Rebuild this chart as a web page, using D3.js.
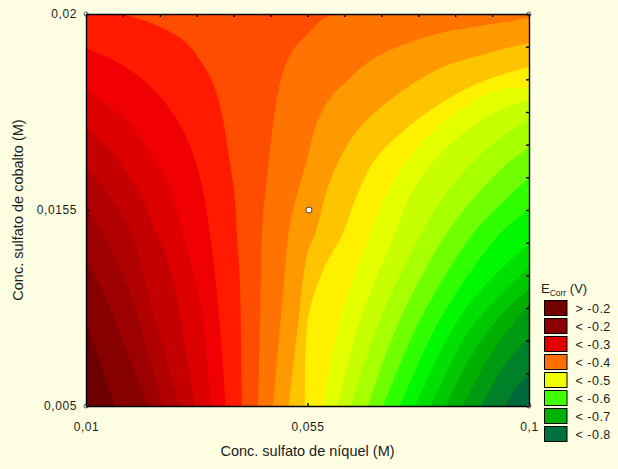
<!DOCTYPE html>
<html><head><meta charset="utf-8">
<script src="https://cdn.jsdelivr.net/npm/d3@7/dist/d3.min.js"></script>
<style>
html,body{margin:0;padding:0;background:#fefee2;overflow:hidden}
text{font-family:"Liberation Sans",Arial,sans-serif;fill:#1c1c1c}
.tick text{font-size:12px;letter-spacing:.6px}
.domain,.tick line{stroke:#000;stroke-width:1.4px}
</style></head><body>
<svg id="c" width="618" height="469"></svg>
<script>
// Axes: concentrations in mmol/L; printed tick labels as in the chart
const xTicks=[10,55,100], xLabels=["0,01","0,055","0,1"];
const yTicks=[5,15.5,20], yLabels=["0,005","0,0155","0,02"];
const xTitle="Conc. sulfato de níquel (M)", yTitle="Conc. sulfato de cobalto (M)";
const designPoints=[[10,20],[100,20],[10,5],[100,5]], centerPoint=[[55.3,15.5]];
// Contour colours, from the lowest to the highest band
const bandColors=["#6f0000","#860000","#9c0000","#b00000","#c40000","#dc0000","#f00000","#ff1a00","#ff4d00","#ff7300","#ff9900","#ffc400","#fff000","#e4ff00","#c8ff00","#a8ff00","#70ff00","#30ff00","#00f800","#00e000","#00c800","#00b000","#009a10","#008028","#006a3a"];
// Contour lines: [Ni, Co] in mmol/L
const contour01=[[15.9,5],[12.8,7.41],[10,9.55]];
const contour02=[[22.6,5],[18.3,7.95],[14.3,10.62],[10,12.98]];
const contour03=[[25.6,5],[18.3,11.54],[13.5,14.21],[10,15.57]];
const contour04=[[29.1,5],[23,10.62],[19.3,14.21],[16.3,15.57],[12.8,16.12],[10,16.46]];
const contour05=[[32.1,5],[27.1,12.45],[24.4,14.21],[21,15.89],[17.5,16.49],[13.5,17.04],[10,17.41]];
const contour06=[[35.4,5],[33.2,10.62],[29.7,14.21],[27.1,15.96],[23.6,16.72],[19.6,17.38],[14.9,17.86],[10,18.28]];
const contour07=[[38.4,5],[36.8,10.62],[35.2,14.21],[33.8,15.96],[31.5,16.88],[28.5,17.57],[24.4,18.19],[19.6,18.67],[14.3,19.01],[10,19.22]];
const contour08=[[41.7,5],[41.3,11.54],[40.7,14.21],[40.3,15.73],[38.9,16.88],[37.6,17.73],[35.8,18.42],[33.2,18.94],[30.5,19.33],[26.5,19.63],[21.6,19.86],[17.5,20]];
const contour09=[[45,5],[45.4,9.61],[45.8,14.21],[46,15.12],[47.4,16.88],[48.8,18.03],[50,18.65],[52.1,19.17],[55.5,19.59],[58.6,19.91],[62.6,20]];
const contour10=[[48,5],[49.4,9.07],[51.2,14.21],[52.1,15.5],[54.9,16.65],[57.2,17.57],[59.8,18.09],[63.2,18.48],[67.9,18.94],[75.4,19.33],[82.1,19.56],[89,19.7],[95.8,19.82],[100,19.91]];
const contour11=[[51.2,5],[52.9,8.86],[55.1,13.3],[56.5,14.16],[59.2,16.03],[61.8,16.72],[65.3,17.34],[70,17.86],[75.4,18.32],[82.1,18.76],[89,19.01],[95.8,19.22],[100,19.33]];
const contour12=[[54.5,5],[55.1,9.61],[57.1,11.54],[59.2,12.82],[62.2,14.21],[64.7,15.73],[68.7,16.65],[74.8,17.34],[80.9,17.86],[89,18.37],[95.8,18.65],[100,18.78]];
const contour13=[[58.2,5],[61.6,9.61],[67.7,14.16],[70.8,15.8],[74.8,16.58],[80.1,17.27],[87,17.86],[93.7,18.26],[100,18.3]];
const contour14=[[61.2,5],[65.7,9.61],[72.8,14.21],[75.4,15.73],[80.9,16.65],[87.6,17.34],[94.3,17.8],[100,18.03]];
const contour15=[[63.8,5],[69.7,9.61],[78.1,14.21],[82.9,15.84],[89,16.65],[95.1,17.22],[100,17.57]];
const contour16=[[67.3,5],[73.8,9.61],[83.2,14.21],[89,15.8],[95.8,16.58],[100,16.92]];
const contour17=[[70.4,5],[77.9,9.61],[88.6,14.21],[95.8,15.8],[100,16.23]];
const contour18=[[73.8,5],[81.9,9.61],[94.1,14.21],[100,15.5]];
const contour19=[[76.9,5],[85.6,9.61],[94.1,12.29],[100,13.62]];
const contour20=[[80.1,5],[88,9.07],[96.2,11.48],[100,12.39]];
const contour21=[[83.2,5],[89,8],[96.2,10.41],[100,11.21]];
const contour22=[[86.6,5],[92.1,7.73],[100,10.46]];
const contour23=[[90.3,5],[95.1,7.2],[100,8.7]];
const contour24=[[95.1,5],[97.8,6.12],[100,6.66]];
const contours=[contour01,contour02,contour03,contour04,contour05,contour06,contour07,contour08,contour09,contour10,contour11,contour12,contour13,contour14,contour15,contour16,contour17,contour18,contour19,contour20,contour21,contour22,contour23,contour24];
// Legend
const legendLabels=["> -0.2","< -0.2","< -0.3","< -0.4","< -0.5","< -0.6","< -0.7","< -0.8"];
const legendColors=["#750000","#8b0000","#e00000","#ff7000","#f0ff00","#40ff00","#00b000","#00703c"];

const L=86,R=529,T=14,B=406;
const svg=d3.select("#c");
const x=d3.scaleLinear().domain([10,100]).range([L,R]);
const y=d3.scaleLinear().domain(yTicks).range([B,(B+T)/2,T]);
svg.append("clipPath").attr("id","pa").append("rect").attr("x",L).attr("y",T).attr("width",R-L).attr("height",B-T);
const g=svg.append("g").attr("clip-path","url(#pa)");
g.append("rect").attr("x",L).attr("y",T).attr("width",R-L).attr("height",B-T).attr("fill",bandColors[0]);
const line=d3.line().x(d=>x(d[0])).y(d=>y(d[1])).curve(d3.curveCatmullRom.alpha(.5));
// each contour runs from the bottom edge; the frame closes the band clockwise
const corners=c=>{const e=c[c.length-1];
  if(e[0]===10) return [[10,20],[100,20],[100,5]];
  if(e[1]===20) return [[100,20],[100,5]];
  return [[100,5]];};
g.selectAll("path.band").data(contours).join("path").attr("class","band")
  .attr("fill",(d,i)=>bandColors[i+1])
  .attr("stroke",(d,i)=>bandColors[i+1]).attr("stroke-width",.4)
  .attr("d",c=>line(c)+corners(c).map(p=>"L"+x(p[0])+","+y(p[1])).join("")+"Z");

svg.selectAll("circle.corner").data(designPoints).join("circle").attr("class","corner")
  .attr("cx",d=>x(d[0])).attr("cy",d=>y(d[1])).attr("r",2).attr("fill","#fff").attr("stroke","#223").attr("stroke-width",.7);
svg.selectAll("circle.center").data(centerPoint).join("circle").attr("class","center")
  .attr("cx",d=>x(d[0])).attr("cy",d=>y(d[1])).attr("r",3).attr("fill","#fff").attr("stroke","#333").attr("stroke-width",.9);

const minorX=d3.range(13).map(i=>10+i*7.5);
const minorY=d3.range(13).map(i=>y.invert(B-i*(B-T)/12));
svg.append("g").attr("transform",`translate(0,${B})`)
  .call(d3.axisBottom(x).tickValues(xTicks).tickFormat((d,i)=>xLabels[i]).tickSize(-3).tickSizeOuter(0).tickPadding(16));
svg.append("g").attr("transform",`translate(${L},0)`)
  .call(d3.axisLeft(y).tickValues(yTicks).tickFormat((d,i)=>yLabels[i]).tickSize(-3).tickSizeOuter(0).tickPadding(9));
svg.append("g").attr("transform",`translate(0,${T})`)
  .call(d3.axisTop(x).tickValues(minorX).tickFormat("").tickSize(-3).tickSizeOuter(0));
svg.append("g").attr("transform",`translate(${R},0)`)
  .call(d3.axisRight(y).tickValues(minorY).tickFormat("").tickSize(-3).tickSizeOuter(0));
svg.selectAll(".tick text").attr("font-size",12);

svg.append("text").attr("x",307.5).attr("y",456).attr("text-anchor","middle").attr("font-size",14.5).text(xTitle);
svg.append("text").attr("transform","translate(23,210) rotate(-90)").attr("text-anchor","middle").attr("font-size",14.5).text(yTitle);

const title=svg.append("text").attr("x",541).attr("y",293).attr("font-size",13);
title.append("tspan").text("E");
title.append("tspan").attr("font-size",8.5).attr("dy",2.5).text("Corr");
title.append("tspan").attr("dy",-2.5).text(" (V)");
const rowY=d3.scaleBand().domain(d3.range(8)).range([299.5,443.5]);
const leg=svg.selectAll("g.leg").data(legendLabels).join("g").attr("class","leg")
  .attr("transform",(d,i)=>`translate(0,${rowY(i)})`);
leg.append("rect").attr("x",544.5).attr("y",1).attr("width",22.5).attr("height",15)
  .attr("fill",(d,i)=>legendColors[i]).attr("stroke","#000").attr("stroke-width",1);
leg.append("text").attr("x",575.5).attr("y",13).attr("font-size",12.5).attr("letter-spacing",".5px").text(d=>d);
</script></body></html>
